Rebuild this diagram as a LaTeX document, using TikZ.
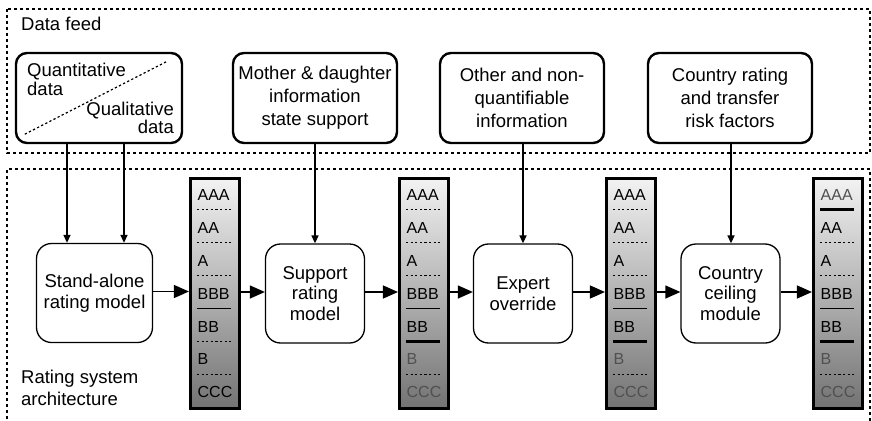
\documentclass[tikz,border=0pt]{standalone}
\usepackage{fontspec}
\setmainfont{Liberation Sans}
\usetikzlibrary{arrows.meta,calc}
\definecolor{lbl}{HTML}{505050}
\newcommand{\ratingbar}[4]{%
  \node[rbar] (#1) at (#2,293.5) {};
  \foreach \t/\c [count=\i] in {#3}
    \node[rlab, text=\c] at ($(#1.north west)+(8.5,{(\i-1)*32.9+23.5})$) {\t};
  \foreach \s [count=\i] in {#4}
    \draw[\s] ($(#1.north west)+(8,{\i*32.9})$) -- ++(34,0);
}
\begin{document}
\begin{tikzpicture}[x=1pt,y=-1pt,
  region/.style={line width=1.3pt, dash pattern=on 3pt off 3pt},
  srcbox/.style={draw, line width=2.4pt, rounded corners=11pt, minimum width=164pt,
    minimum height=90pt, align=center, font=\fontsize{18.5}{23}\selectfont, inner sep=0pt},
  modbox/.style={draw, line width=1.3pt, rounded corners=15pt, minimum width=99pt,
    minimum height=99pt, align=center, font=\fontsize{18.5}{20.5}\selectfont, inner sep=0pt},
  rbar/.style={draw, line width=2.6pt, minimum width=49.5pt, minimum height=230.5pt,
    top color=black!5, bottom color=black!55, inner sep=0pt},
  rlab/.style={anchor=base west, inner sep=0pt, font=\fontsize{16}{16}\selectfont},
  plain/.style={inner sep=0pt, font=\fontsize{18.5}{18.5}\selectfont},
  sepdot/.style={line width=1.2pt, dash pattern=on 2.3pt off 2.3pt},
  septhin/.style={line width=1.8pt},
  septhick/.style={line width=3.2pt},
  harrow/.style={line width=1.3pt, -{Triangle[length=15pt,width=13pt]}},
  varrow/.style={line width=1.6pt, -{Triangle[length=8pt,width=7pt]}}]
\useasboundingbox (0,0) rectangle (872,420);

% regions
\draw[region] (7,9) rectangle (870,153);
\draw[region] (7,425) -- (7,169) -- (870,169) -- (870,425);
\node[plain, anchor=base west] (df) at (21,30.5) {Data feed};
\node[plain, anchor=base west] (rs1) at (21,383) {Rating system};
\node[plain, anchor=base west] (rs2) at (21,405) {architecture};

% source boxes
\node[srcbox, minimum width=166pt] (q) at (99,98) {};
\draw[sepdot] ($(q.south west)+(10,-10)$) -- ($(q.north east)+(-17,10)$);
\node[plain, anchor=base west] (q1) at (27,77) {Quantitative};
\node[plain, anchor=base west] (q2) at (27,95.5) {data};
\node[plain, anchor=base east] (q3) at (174,115) {Qualitative};
\node[plain, anchor=base east] (q4) at (174,133) {data};
\node[srcbox] (s2) at (315,98) {Mother \& daughter\\information\\state support};
\node[srcbox] (s3) at (522,98) {Other and non-\\quantifiable\\information};
\node[srcbox] (s4) at (730,98) {Country rating\\and transfer\\risk factors};

% model boxes
\node[modbox, minimum width=116pt] (m1) at (94.5,293) {Stand-alone\\rating model};
\node[modbox] (m2) at (315,293.5) {Support\\rating\\model};
\node[modbox] (m3) at (523,293.5) {Expert\\override};
\node[modbox] (m4) at (730.5,293.5) {Country\\ceiling\\module};

% rating bars
\ratingbar{b1}{215}{AAA/black,AA/black,A/black,BBB/black,BB/black,B/black,CCC/black}{sepdot,sepdot,sepdot,septhin,sepdot,sepdot}
\ratingbar{b2}{424}{AAA/black,AA/black,A/black,BBB/black,BB/black,B/lbl,CCC/lbl}{sepdot,sepdot,sepdot,septhin,septhick,sepdot}
\ratingbar{b3}{631}{AAA/black,AA/black,A/black,BBB/black,BB/black,B/lbl,CCC/lbl}{sepdot,sepdot,sepdot,septhin,septhick,sepdot}
\ratingbar{b4}{838}{AAA/lbl,AA/black,A/black,BBB/black,BB/black,B/lbl,CCC/lbl}{septhick,sepdot,sepdot,septhin,septhick,sepdot}

% vertical feeds
\draw[varrow] ([xshift=-32pt]q.south) -- ([xshift=-32pt]q.south |- m1.north);
\draw[varrow] ([xshift=25pt]q.south) -- ([xshift=25pt]q.south |- m1.north);
\draw[varrow] (s2.south) -- (s2.south |- m2.north);
\draw[varrow] ([xshift=1pt]s3.south) -- ([xshift=1pt]s3.south |- m3.north);
\draw[varrow] ([xshift=1pt]s4.south) -- ([xshift=1pt]s4.south |- m4.north);

% horizontal flow
\draw[harrow] ([yshift=1.5pt]m1.east) -- ([yshift=1.5pt]m1.east -| b1.west);
\draw[harrow] ([yshift=1.5pt]b1.east) -- ([yshift=1.5pt]b1.east -| m2.west);
\draw[harrow] ([yshift=1.5pt]m2.east) -- ([yshift=1.5pt]m2.east -| b2.west);
\draw[harrow] ([yshift=1.5pt]b2.east) -- ([yshift=1.5pt]b2.east -| m3.west);
\draw[harrow] ([yshift=1.5pt]m3.east) -- ([yshift=1.5pt]m3.east -| b3.west);
\draw[harrow] ([yshift=1.5pt]b3.east) -- ([yshift=1.5pt]b3.east -| m4.west);
\draw[harrow] ([yshift=1.5pt]m4.east) -- ([yshift=1.5pt]m4.east -| b4.west);
\end{tikzpicture}
\end{document}
